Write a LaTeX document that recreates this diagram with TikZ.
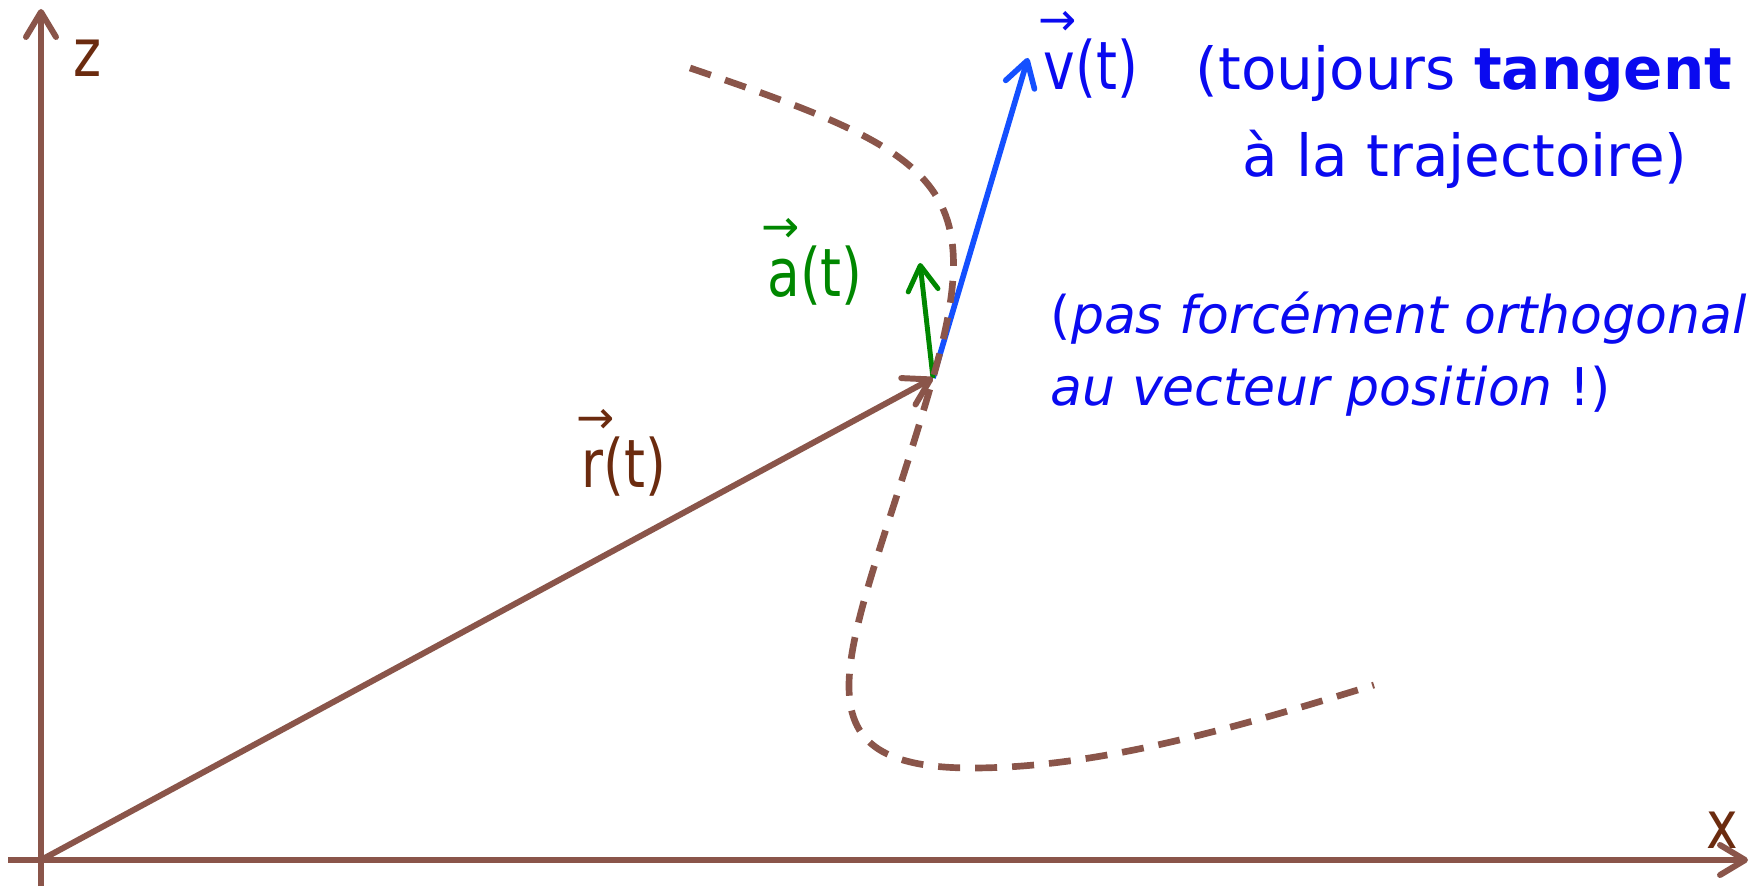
\documentclass[tikz,border=0pt]{standalone}
\usepackage{amsmath}
\usepackage{fontspec}
\setmainfont{DejaVu Sans}
\newfontfamily\lblfont{DejaVu Sans}[FakeStretch=0.8]
\newfontfamily\arrfont{DejaVu Sans}
\usepackage{tikz}
\usetikzlibrary{arrows.meta}

\definecolor{axbrown}{RGB}{138,85,74}
\definecolor{lblbrown}{RGB}{107,43,15}
\definecolor{vblue}{RGB}{20,80,255}
\definecolor{txtblue}{RGB}{10,10,240}
\definecolor{agreen}{RGB}{0,135,0}

% letter with a small arrow above it
\newcommand{\vlbl}[1]{\makebox[0pt][l]{\hspace{-0.08em}\raisebox{0.82em}{\arrfont\fontsize{13}{13}\selectfont →}}#1}

\begin{document}
\begin{tikzpicture}[
  tip/.style={-{Straight Barb[length=2.5mm, width=3mm, round]}},
  axis/.style={draw=axbrown, line width=1.7pt, tip},
  vecarr/.style={line width=1.6pt, tip},
  traj/.style={draw=axbrown, line width=1.9pt, dash pattern=on 2.2mm off 1.5mm},
  lbl/.style={font=\lblfont\fontsize{19}{22}\selectfont, inner sep=0pt, anchor=base},
  note/.style={text=txtblue, inner sep=0pt, anchor=base}
]
  \useasboundingbox (0,0) rectangle (17.55,8.86);

  % axes
  \coordinate (O) at (0.41,0.26);
  \coordinate (zbot) at (0.41,0);
  \coordinate (ztop) at (0.41,8.77);
  \coordinate (xleft) at (0.08,0.26);
  \coordinate (xright) at (17.48,0.26);
  \draw[axis] (zbot) -- (ztop);
  \draw[axis] (xleft) -- (xright);
  \node[lbl, text=lblbrown, anchor=center] (zlbl) at (0.88,8.28) {z};
  \node[lbl, text=lblbrown, anchor=center] (xlbl) at (17.22,0.56) {x};

  % point on the trajectory and vectors
  \coordinate (P) at (9.33,5.08);
  \coordinate (vtip) at (10.28,8.28);
  \coordinate (atip) at (9.20,6.23);

  \draw[vecarr, vblue] (P) -- (vtip);
  \draw[vecarr, agreen, line width=1.4pt] (P) -- (atip);

  % trajectory
  \coordinate (tstart) at (6.90,8.18);
  \coordinate (tlow) at (9.72,1.18);
  \coordinate (tend) at (13.74,2.01);
  \draw[traj] (tstart) .. controls (9.37,7.34) and (9.89,7.04) .. (P)
    .. controls (8.59,2.48) and (7.72,1.18) .. (tlow)
    .. controls (11.02,1.18) and (12.44,1.61) .. (tend);

  \draw[axis] (O) -- (P);

  % labels
  \node[lbl, text=lblbrown] (rlbl) at (6.24,3.98) {\vlbl{r}(t)};
  \node[lbl, text=agreen] (albl) at (8.15,5.89) {\vlbl{a}(t)};
  \node[lbl, text=txtblue] (vlbl) at (10.91,7.96) {\vlbl{v}(t)};

  % comments
  \node[note, font=\fontsize{16.5}{20}\selectfont] (tan1) at (14.64,7.96) {(toujours \textbf{tangent}};
  \node[note, font=\fontsize{16.5}{20}\selectfont] (tan2) at (14.65,7.09) {à la trajectoire)};
  \node[note, anchor=base west, font=\fontsize{14.8}{18}\selectfont] (orth1) at (10.50,5.52) {(\textit{pas forcément orthogonal}};
  \node[note, anchor=base west, font=\fontsize{14.8}{18}\selectfont] (orth2) at (10.50,4.80) {\textit{au vecteur position} !)};
\end{tikzpicture}
\end{document}
